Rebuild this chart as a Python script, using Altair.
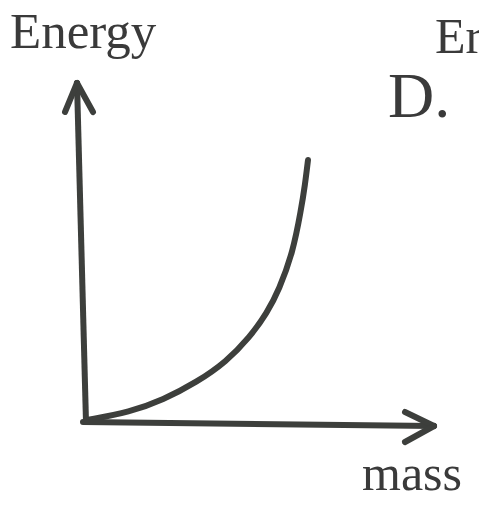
import altair as alt
import pandas as pd

# curve: energy vs mass (data units, origin at axis corner)
curve_mass = [1, 44, 77, 111, 140, 164, 181, 193, 207, 215, 219, 222]
curve_energy = [2, 10, 22, 40, 60, 85, 109, 132, 170, 212, 237, 262]

# axis arrows as segments (start mass, start energy, end mass, end energy)
seg_x1 = [0, -9, -9, -3, 348, 348]
seg_y1 = [0, 339, 339, 0, -4, -4]
seg_x2 = [-9, -21, 7, 348, 319, 319]
seg_y2 = [339, 310, 310, -4, 10, -20]

# labels
label_text = ["Energy", "Er", "D.", "mass"]
label_mass = [-76, 349, 302, 276]
label_energy = [374, 369, 305, -68]
label_size = [51, 50, 64, 50]

xs = alt.Scale(domain=[-78, 393])
ys = alt.Scale(domain=[-82, 414])
ink = "#3d3f3c"

curve_df = pd.DataFrame({"mass": curve_mass, "energy": curve_energy})
seg_df = pd.DataFrame({"x1": seg_x1, "y1": seg_y1, "x2": seg_x2, "y2": seg_y2})
lab_df = pd.DataFrame({"t": label_text, "mass": label_mass,
                       "energy": label_energy, "size": label_size})

curve = alt.Chart(curve_df).mark_line(
    color=ink, strokeWidth=6, interpolate="basis", strokeCap="round"
).encode(
    x=alt.X("mass:Q", scale=xs, axis=None),
    y=alt.Y("energy:Q", scale=ys, axis=None),
)

arrows = alt.Chart(seg_df).mark_rule(
    color=ink, strokeWidth=6, strokeCap="round"
).encode(
    x=alt.X("x1:Q", scale=xs, axis=None),
    y=alt.Y("y1:Q", scale=ys, axis=None),
    x2="x2:Q",
    y2="y2:Q",
)

labels = alt.Chart(lab_df).mark_text(
    align="left", baseline="alphabetic", font="Liberation Serif", color="#3a3a3a"
).encode(
    x=alt.X("mass:Q", scale=xs, axis=None),
    y=alt.Y("energy:Q", scale=ys, axis=None),
    text="t:N",
    size=alt.Size("size:Q", scale=None, legend=None),
)

chart = (curve + arrows + labels).properties(
    width=471, height=496, padding=0, autosize=alt.AutoSizeParams(type="none"),
    background="white",
).configure_view(stroke=None)

chart.save("out.html", embed_options={"renderer": "svg", "actions": False})
